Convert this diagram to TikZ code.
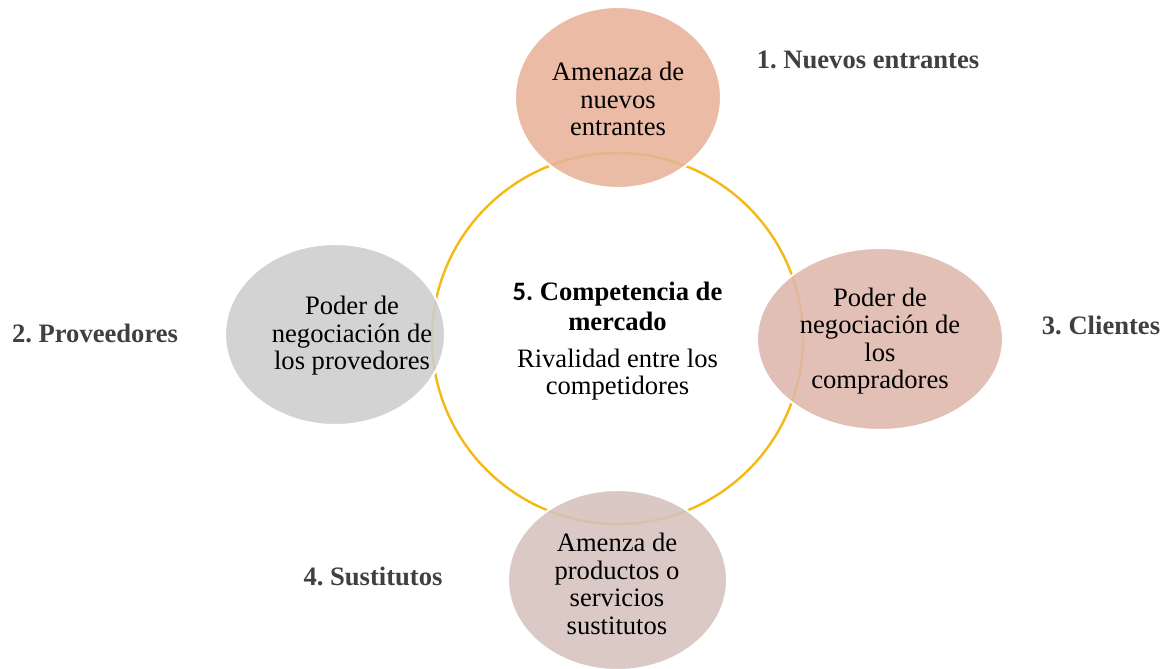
\documentclass[tikz,border=0pt]{standalone}
\usepackage{fontspec}
\setmainfont{Liberation Serif}
\newfontfamily\timesfont{Liberation Serif}
\newfontfamily\calibrifont{Carlito}
\usetikzlibrary{shapes.geometric}
\frenchspacing
\definecolor{ringgold}{RGB}{244,185,20}
\definecolor{topfill}{RGB}{232,178,153}
\definecolor{leftfill}{RGB}{205,205,205}
\definecolor{rightfill}{RGB}{223,183,172}
\definecolor{botfill}{RGB}{214,193,190}
\definecolor{labelgray}{RGB}{64,64,64}
\tikzset{
  blob/.style={fill opacity=0.88, draw=white, line width=2pt},
  ring/.style={draw=ringgold, line width=2.4pt, fill=white},
  inner/.style={align=center, inner sep=0pt, font=\timesfont\fontsize{26.6}{27.5}\selectfont, text=black},
  outer/.style={anchor=base, inner sep=0pt, font=\timesfont\fontsize{26.6}{27}\selectfont\bfseries, text=labelgray}
}
\begin{document}
\begin{tikzpicture}[x=1pt,y=-1pt]
\useasboundingbox (0,0) rectangle (1167,669);
% central ring
\path[ring] (617.5,338.5) circle (185.5);
% outer ellipses
\path[blob, fill=topfill] (618,97.5) ellipse (103 and 90.5);
\path[blob, fill=leftfill] (335,334.5) ellipse (110 and 90.5);
\path[blob, fill=rightfill] (880,339) ellipse (123 and 91);
\path[blob, fill=botfill] (617.5,580) ellipse (109.5 and 90);
% texts
\node[inner] (tcenter) at (617.5,341) {{\bfseries{\calibrifont 5.} Competencia de}\\[3pt]{\bfseries mercado}\\[9pt]Rivalidad entre los\\competidores};
\node[inner] (ttop) at (618,99) {Amenaza de\\nuevos\\entrantes};
\node[inner] (tleft) at (352,336) {Poder de\\negociación de\\los provedores};
\node[inner] (tright) at (880,341) {Poder de\\negociación de\\los\\compradores};
\node[inner] (tbot) at (617,584) {Amenza de\\productos o\\servicios\\sustitutos};
% outer labels
\node[outer] (l1) at (868,68) {1. Nuevos entrantes};
\node[outer] (l2) at (95,342) {2. Proveedores};
\node[outer] (l3) at (1101,334) {3. Clientes};
\node[outer] (l4) at (373,585) {4. Sustitutos};
\end{tikzpicture}
\end{document}
